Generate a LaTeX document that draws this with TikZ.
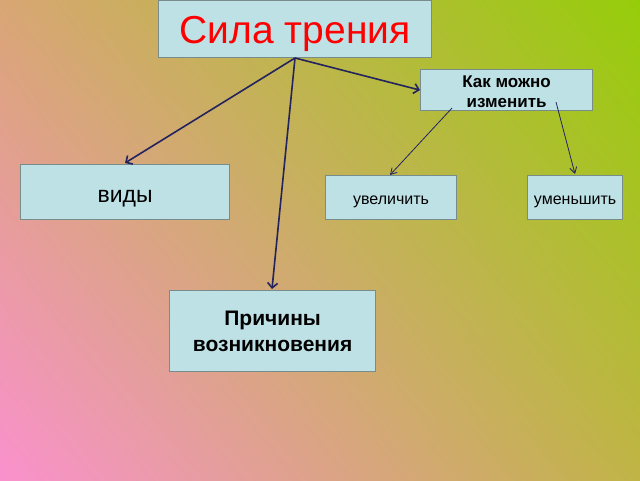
\documentclass[tikz,border=0pt]{standalone}
\usepackage{fontspec}
\setmainfont{Liberation Sans}
\usetikzlibrary{arrows.meta,shadings}
\definecolor{boxfill}{RGB}{190,225,230}
\definecolor{boxline}{RGB}{120,140,140}
\definecolor{navy}{RGB}{35,35,95}
\definecolor{cTL}{RGB}{216,166,116}
\definecolor{cTR}{RGB}{150,205,10}
\definecolor{cBL}{RGB}{250,145,205}
\definecolor{cBR}{RGB}{192,180,70}
\tikzset{
  box/.style={draw=boxline, line width=1.2pt, fill=boxfill, inner sep=0pt, anchor=north west, align=center},
  thickarrow/.style={draw=navy, line width=1.6pt, -{Straight Barb[length=5pt,width=10pt]}},
  thinarrow/.style={draw=navy, line width=0.8pt, -{Straight Barb[length=6pt,width=7pt]}}
}
\begin{document}
\begin{tikzpicture}[x=1pt,y=-1pt]
\useasboundingbox (0,0) rectangle (640,480);
\shade[upper left=cTL, upper right=cTR, lower left=cBL, lower right=cBR] (0,0) rectangle (640,480);
\node[box, minimum width=273pt, minimum height=57pt, text=red, text height=29pt, text depth=0pt, font=\fontsize{39}{42}\selectfont] (title) at (158,0) {Сила трения};
\node[box, minimum width=172pt, minimum height=41pt, font=\bfseries\fontsize{17}{20}\selectfont] (how) at (420,69) {\rule{0pt}{15pt}Как можно\\изменить};
\node[box, minimum width=209pt, minimum height=55pt, text height=21pt, text depth=0pt, font=\fontsize{23}{25}\selectfont] (vid) at (20,164) {виды};
\node[box, minimum width=131pt, minimum height=44pt, text height=14pt, text depth=0pt, font=\fontsize{16}{18}\selectfont] (inc) at (325,175) {увеличить};
\node[box, minimum width=95pt, minimum height=44pt, text height=14pt, text depth=0pt, font=\fontsize{16}{18}\selectfont] (dec) at (527,175) {уменьшить};
\node[box, minimum width=206pt, minimum height=81pt, font=\bfseries\fontsize{21}{26}\selectfont] (cause) at (169,290) {Причины\\возникновения};
\coordinate (src) at (295,58);
\coordinate (vtip) at (125,163);
\coordinate (ctip) at (272,289);
\coordinate (h1) at (452,108);
\coordinate (h2) at (556,102);
\coordinate (itip) at (390,175);
\coordinate (dtip) at (575,174);
\draw[thickarrow] (src) -- (vtip);
\draw[thickarrow] (src) -- (ctip);
\draw[thickarrow] (src) -- (how.west);
\draw[thinarrow] (h1) -- (itip);
\draw[thinarrow] (h2) -- (dtip);
\end{tikzpicture}
\end{document}
